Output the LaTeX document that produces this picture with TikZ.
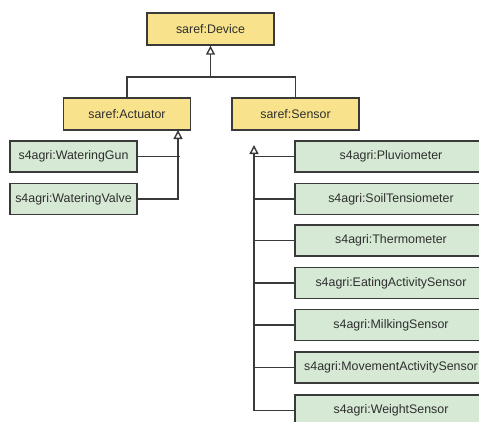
\documentclass[tikz,border=0pt]{standalone}
\usepackage{fontspec}
\setmainfont{Liberation Sans}
\usetikzlibrary{arrows.meta}
\definecolor{ylw}{HTML}{F8E38C}
\definecolor{grn}{HTML}{D5E9D4}
\definecolor{edge}{HTML}{3A3A3A}
\definecolor{txt}{HTML}{2E2E2E}
\begin{document}
\begin{tikzpicture}[x=1pt,y=-1pt,
  box/.style={draw=edge,line width=1.4pt,inner sep=0pt,align=center,
    text=txt,font=\fontsize{12.4}{15}\selectfont},
  cls/.style={box,fill=ylw,minimum width=127pt,minimum height=32pt},
  sub/.style={box,fill=grn,minimum height=31pt},
  link/.style={draw=edge,line width=1.4pt},
  uml/.style={link,-{Triangle[open,length=9pt,width=9pt,fill=white]}}]
\useasboundingbox (0,0) rectangle (479,421);
\clip (0,0) rectangle (479,421);
% main classes
\node[cls] (dev) at (210.5,29) {saref:Device};
\node[cls] (act) at (127,114) {saref:Actuator};
\node[cls] (sen) at (295.5,114) {saref:Sensor};
% actuator subclasses
\node[sub,minimum width=127pt] (wg) at (73.5,156.5) {s4agri:WateringGun};
\node[sub,minimum width=127pt] (wv) at (73.5,199) {s4agri:WateringValve};
% sensor subclasses
\node[sub,minimum width=192pt] (s1) at (391,156.5) {s4agri:Pluviometer};
\node[sub,minimum width=192pt] (s2) at (391,199) {s4agri:SoilTensiometer};
\node[sub,minimum width=192pt] (s3) at (391,240.5) {s4agri:Thermometer};
\node[sub,minimum width=192pt] (s4) at (391,283) {s4agri:EatingActivitySensor};
\node[sub,minimum width=192pt] (s5) at (391,325) {s4agri:MilkingSensor};
\node[sub,minimum width=192pt] (s6) at (391,367.5) {s4agri:MovementActivitySensor};
\node[sub,minimum width=192pt] (s7) at (391,410.5) {s4agri:WeightSensor};
% helper coordinates
\coordinate (bus) at (210.5,77);
\coordinate (atip) at (178,130);
\coordinate (wgend) at (180,156.5);
\coordinate (stip) at (254,145);
% device generalisation
\draw[uml] (bus) -- (dev.south);
\draw[link] (act.north) |- (bus) -| (sen.north);
% actuator generalisation
\draw[uml] (wv.east) -| (atip);
\draw[link] (wg.east) -- (wgend);
% sensor generalisation
\draw[uml] (s7.west) -| (stip);
\foreach \s in {s1,s2,s3,s4,s5,s6}{
  \draw[link] (\s.west) -- (\s.west -| stip);
}
\end{tikzpicture}
\end{document}
